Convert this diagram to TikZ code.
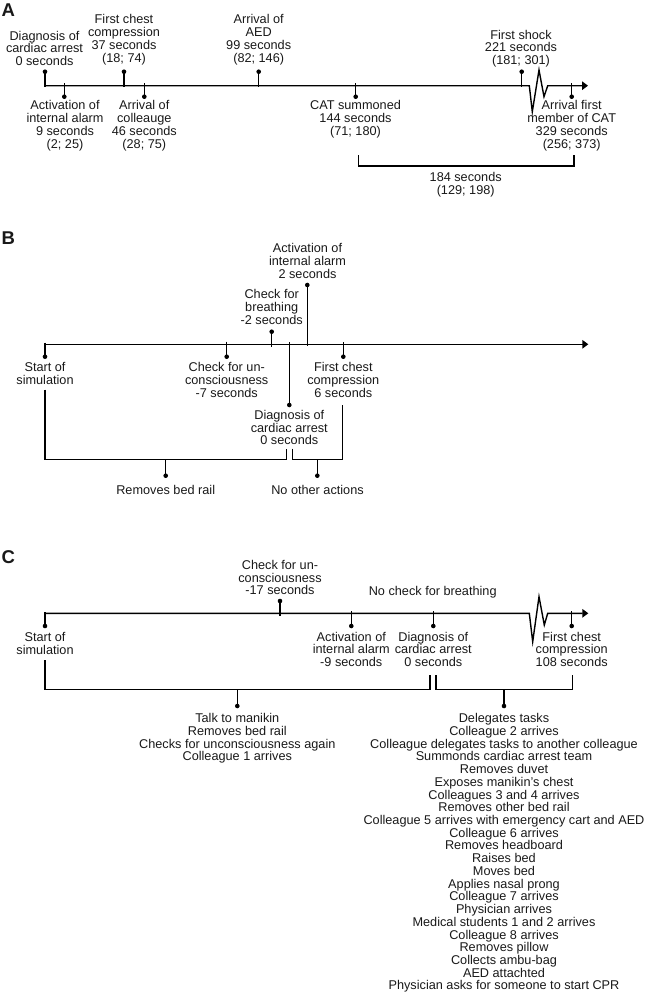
\documentclass[tikz,border=0pt]{standalone}
\usepackage{fontspec}
\setmainfont{Liberation Sans}
\usetikzlibrary{arrows.meta}
\begin{document}
\begin{tikzpicture}[x=1pt,y=-1pt,
  ax/.style={line width=1.4pt,-{Triangle[length=6pt,width=8.5pt]}},
  ln/.style={line width=1.4pt},
  dt/.style={circle,fill=black,inner sep=0pt,minimum size=4.6pt},
  lb/.style={align=center,inner sep=0pt,text=black!90,font=\fontsize{12.7}{12.73}\selectfont},
  pl/.style={inner sep=0pt,text=black!90,font=\fontsize{18.5}{20}\selectfont\bfseries}]
\useasboundingbox (0,0) rectangle (646,993);

% ================= Panel A =================
\node[pl] (PA) at (8.3,10) {A};
\coordinate (A0) at (45,85.7);
\coordinate (Abk) at (529.3,85.7);
\coordinate (Aend) at (588,85.7);
\draw[ax] (A0) -- (Abk) -- ++(3,26) -- ++(6.7,-41.7) -- ++(5,26.7) -- ++(3.7,-11) -- (Aend);

% above ticks
\node[dt] (Ad1) at (45,71.7) {};   \coordinate (At1) at (45,87.3);    \draw[ln] (Ad1.center) -- (At1);
\node[dt] (Ad3) at (124,71.7) {};  \coordinate (At3) at (124,87.3);   \draw[ln] (Ad3.center) -- (At3);
\node[dt] (Ad5) at (258.7,71.7) {};\coordinate (At5) at (258.7,87.3); \draw[ln] (Ad5.center) -- (At5);
\node[dt] (Ad7) at (521.7,71.7) {};\coordinate (At7) at (521.7,87.3); \draw[ln] (Ad7.center) -- (At7);
% below ticks
\node[dt] (Ad2) at (64.3,96.7) {};  \coordinate (At2) at (64.3,83.3);  \draw[ln] (At2) -- (Ad2.center);
\node[dt] (Ad4) at (144.3,96.7) {}; \coordinate (At4) at (144.3,83.3); \draw[ln] (At4) -- (Ad4.center);
\node[dt] (Ad6) at (355.7,96.7) {}; \coordinate (At6) at (355.7,83.3); \draw[ln] (At6) -- (Ad6.center);
\node[dt] (Ad8) at (571.7,96.7) {}; \coordinate (At8) at (571.7,83.3); \draw[ln] (At8) -- (Ad8.center);

\node[lb] (Al1) at (44.5,48.3) {Diagnosis of\\cardiac arrest\\0 seconds};
\node[lb] (Al2) at (65,125.7) {Activation of\\internal alarm\\9 seconds\\(2; 25)};
\node[lb] (Al3) at (124,39.7) {First chest\\compression\\37 seconds\\(18; 74)};
\node[lb] (Al4) at (144.3,125.7) {Arrival of\\colleauge\\46 seconds\\(28; 75)};
\node[lb] (Al5) at (258.7,39.7) {Arrival of\\AED\\99 seconds\\(82; 146)};
\node[lb] (Al6) at (355.5,119.3) {CAT summoned\\144 seconds\\(71; 180)};
\node[lb] (Al7) at (521,48.7) {First shock\\221 seconds\\(181; 301)};
\node[lb] (Al8) at (571.7,125.7) {Arrival first\\member of CAT\\329 seconds\\(256; 373)};

\coordinate (Ab1) at (358.3,155);
\coordinate (Ab2) at (358.3,166);
\coordinate (Ab3) at (574,166);
\coordinate (Ab4) at (574,155);
\draw[ln] (Ab1) -- (Ab2) -- (Ab3) -- (Ab4);
\node[lb] (Abl) at (465.7,184.5) {184 seconds\\(129; 198)};

% ================= Panel B =================
\node[pl] (PB) at (8.3,238.3) {B};
\coordinate (B0) at (45,344.3);
\coordinate (Bend) at (588.3,344.3);
\draw[ax] (B0) -- (Bend);

\node[dt] (Bd1) at (45,356.7) {};    \coordinate (Bt1) at (45,342.7);    \draw[ln] (Bt1) -- (Bd1.center);
\node[dt] (Bd2) at (226.7,356.7) {}; \coordinate (Bt2) at (226.7,341.7); \draw[ln] (Bt2) -- (Bd2.center);
\node[dt] (Bd3) at (271.7,331.7) {}; \coordinate (Bt3) at (271.7,346.7); \draw[ln] (Bd3.center) -- (Bt3);
\node[dt] (Bd4) at (307.3,285) {};   \coordinate (Bt4) at (307.3,346.2); \draw[ln] (Bd4.center) -- (Bt4);
\node[dt] (Bd5) at (289.3,405) {};   \coordinate (Bt5) at (289.3,342.4); \draw[ln] (Bt5) -- (Bd5.center);
\node[dt] (Bd6) at (343.3,356.7) {}; \coordinate (Bt6) at (343.3,342);   \draw[ln] (Bt6) -- (Bd6.center);

\node[lb] (Bl4) at (307.5,260.8) {Activation of\\internal alarm\\2 seconds};
\node[lb] (Bl3) at (271.7,306.8) {Check for\\breathing\\-2 seconds};
\node[lb] (Bl1) at (45,373.7) {Start of\\simulation};
\node[lb] (Bl2) at (226.7,380) {Check for un-\\consciousness\\-7 seconds};
\node[lb] (Bl6) at (343.3,380) {First chest\\compression\\6 seconds};
\node[lb] (Bl5) at (289.3,427.5) {Diagnosis of\\cardiac arrest\\0 seconds};

\coordinate (Bb1) at (45,389.5);
\coordinate (Bb2) at (45,459.3);
\coordinate (Bb3) at (286.7,459.3);
\coordinate (Bb4) at (286.7,448.5);
\draw[ln] (Bb1) -- (Bb2) -- (Bb3) -- (Bb4);
\coordinate (Bbm1) at (165.7,459.3);
\node[dt] (Bdm1) at (165.7,475.7) {};
\draw[ln] (Bbm1) -- (Bdm1.center);
\node[lb] (Blm1) at (165.7,490) {Removes bed rail};

\coordinate (Bc1) at (292.3,448.5);
\coordinate (Bc2) at (292.3,459.3);
\coordinate (Bc3) at (342.7,459.3);
\coordinate (Bc4) at (342.7,404.5);
\draw[ln] (Bc1) -- (Bc2) -- (Bc3) -- (Bc4);
\coordinate (Bbm2) at (317.3,459.3);
\node[dt] (Bdm2) at (317.3,475.7) {};
\draw[ln] (Bbm2) -- (Bdm2.center);
\node[lb] (Blm2) at (317.5,490) {No other actions};

% ================= Panel C =================
\node[pl] (PC) at (8.3,556.7) {C};
\coordinate (C0) at (45,613.3);
\coordinate (Cbk) at (529.3,613.3);
\coordinate (Cend) at (588.3,613.3);
\draw[ax] (C0) -- (Cbk) -- ++(3.4,28.4) -- ++(6.3,-45) -- ++(5.3,28.3) -- ++(3.4,-11.7) -- (Cend);

\node[dt] (Cd1) at (45,626) {};    \coordinate (Ct1) at (45,612);    \draw[ln] (Ct1) -- (Cd1.center);
\node[dt] (Cd2) at (280,601) {};   \coordinate (Ct2) at (280,616);   \draw[ln] (Cd2.center) -- (Ct2);
\node[dt] (Cd3) at (351.3,626) {}; \coordinate (Ct3) at (351.3,611); \draw[ln] (Ct3) -- (Cd3.center);
\node[dt] (Cd4) at (433.3,626) {}; \coordinate (Ct4) at (433.3,611); \draw[ln] (Ct4) -- (Cd4.center);
\node[dt] (Cd5) at (571.7,626) {}; \coordinate (Ct5) at (571.7,611); \draw[ln] (Ct5) -- (Cd5.center);

\node[lb] (Cl2) at (280,577.5) {Check for un-\\consciousness\\-17 seconds};
\node[lb] (Cln) at (432.7,592.7) {No check for breathing};
\node[lb] (Cl1) at (45,643.3) {Start of\\simulation};
\node[lb] (Cl3) at (351.3,649.3) {Activation of\\internal alarm\\-9 seconds};
\node[lb] (Cl4) at (433.3,649.3) {Diagnosis of\\cardiac arrest\\0 seconds};
\node[lb] (Cl5) at (571.7,649.3) {First chest\\compression\\108 seconds};

\coordinate (Cb1) at (45,660);
\coordinate (Cb2) at (45,689.3);
\coordinate (Cb3) at (430,689.3);
\coordinate (Cb4) at (430,675);
\draw[ln] (Cb1) -- (Cb2) -- (Cb3) -- (Cb4);
\coordinate (Cbm1) at (237.3,689.3);
\node[dt] (Cdm1) at (237.3,706) {};
\draw[ln] (Cbm1) -- (Cdm1.center);
\node[lb] (Clm1) at (237.3,738.4) {Talk to manikin\\Removes bed rail\\Checks for unconsciousness again\\Colleague 1 arrives};

\coordinate (Cc1) at (436,675);
\coordinate (Cc2) at (436,689.3);
\coordinate (Cc3) at (572.3,689.3);
\coordinate (Cc4) at (572.3,675);
\draw[ln] (Cc1) -- (Cc2) -- (Cc3) -- (Cc4);
\coordinate (Cbm2) at (504,689.3);
\node[dt] (Cdm2) at (504,706) {};
\draw[ln] (Cbm2) -- (Cdm2.center);
\node[lb] (Clm2) at (504,853) {Delegates tasks\\Colleague 2 arrives\\Colleague delegates tasks to another colleague\\Summonds cardiac arrest team\\Removes duvet\\Exposes manikin's chest\\Colleagues 3 and 4 arrives\\Removes other bed rail\\Colleague 5 arrives with emergency cart and AED\\Colleague 6 arrives\\Removes headboard\\Raises bed\\Moves bed\\Applies nasal prong\\Colleague 7 arrives\\Physician arrives\\Medical students 1 and 2 arrives\\Colleague 8 arrives\\Removes pillow\\Collects ambu-bag\\AED attachted\\Physician asks for someone to start CPR};
\end{tikzpicture}
\end{document}
